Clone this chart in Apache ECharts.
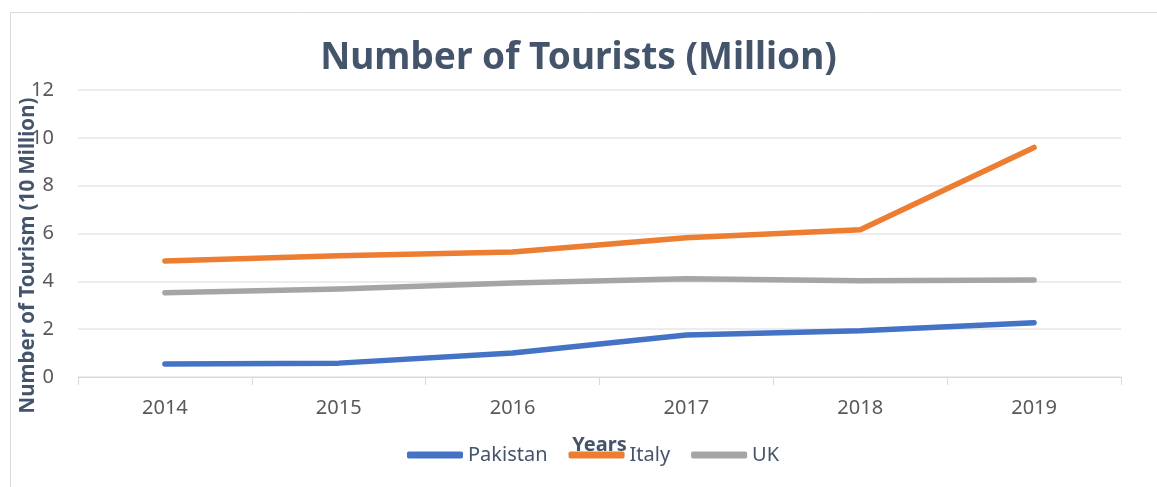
<!DOCTYPE html>
<html>
<head>
<meta charset="utf-8">
<script src="https://cdn.jsdelivr.net/npm/echarts@6/dist/echarts.min.js"></script>
<style>
html,body{margin:0;padding:0;background:#fff;}
#c{width:1157px;height:487px;}
</style>
</head>
<body>
<div id="c"></div>
<script>
const years = ['2014','2015','2016','2017','2018','2019'];
const pakistan = [0.54, 0.58, 1.0, 1.76, 1.93, 2.27];
const italy = [4.85, 5.07, 5.23, 5.82, 6.16, 9.6];
const uk = [3.52, 3.68, 3.93, 4.11, 4.02, 4.06];

const font = 'Noto Sans';
const chart = echarts.init(document.getElementById('c'));
const mk = (name, data, color) => ({
  name, type: 'line', data, symbol: 'none', smooth: false,
  lineStyle: {width: 5.5, color, cap: 'round', join: 'round'},
  itemStyle: {color}
});
chart.setOption({
  animation: false,
  textStyle: {fontFamily: font},
  graphic: [{
    type: 'rect', shape: {x: 10.5, y: 12.5, width: 1160, height: 490},
    style: {fill: 'none', stroke: '#D9D9D9', lineWidth: 1}, silent: true
  }],
  title: {
    text: 'Number of Tourists (Million)', left: 'center', top: 35,
    textStyle: {fontFamily: font, fontSize: 37, fontWeight: 'bold', color: '#44546A'}
  },
  grid: {left: 78, right: 36, top: 90, bottom: 110, containLabel: false, outerBoundsMode: 'none'},
  legend: {
    bottom: 17, left: 402, itemWidth: 56, itemHeight: 7, itemGap: 21,
    icon: 'roundRect',
    textStyle: {fontFamily: font, fontSize: 20, color: '#44546A'},
    data: ['Pakistan','Italy','UK']
  },
  xAxis: {
    type: 'category', data: years, boundaryGap: true,
    name: 'Years', nameLocation: 'middle', nameGap: 58, nameMoveOverlap: false,
    nameTextStyle: {fontFamily: font, fontSize: 20, fontWeight: 'bold', color: '#44546A'},
    axisLine: {lineStyle: {color: '#D9D9D9', width: 1}},
    axisTick: {show: true, length: 8, lineStyle: {color: '#D9D9D9'}},
    axisLabel: {fontFamily: font, fontSize: 20, color: '#595959', margin: 21}
  },
  yAxis: {
    type: 'value', min: 0, max: 12, interval: 2,
    name: 'Number of Tourism (10 Million)', nameLocation: 'middle', nameGap: 39, nameMoveOverlap: false,
    nameTextStyle: {fontFamily: font, fontSize: 20.5, fontWeight: 'bold', color: '#44546A', padding: [0, 44, 0, 0]},
    axisLine: {show: false}, axisTick: {show: false},
    splitLine: {lineStyle: {color: '#E3E6EA', width: 1.5}},
    axisLabel: {fontFamily: font, fontSize: 20, color: '#595959', margin: 24}
  },
  series: [
    mk('Pakistan', pakistan, '#4472C4'),
    mk('Italy', italy, '#ED7D31'),
    mk('UK', uk, '#A5A5A5')
  ]
});
</script>
</body>
</html>
